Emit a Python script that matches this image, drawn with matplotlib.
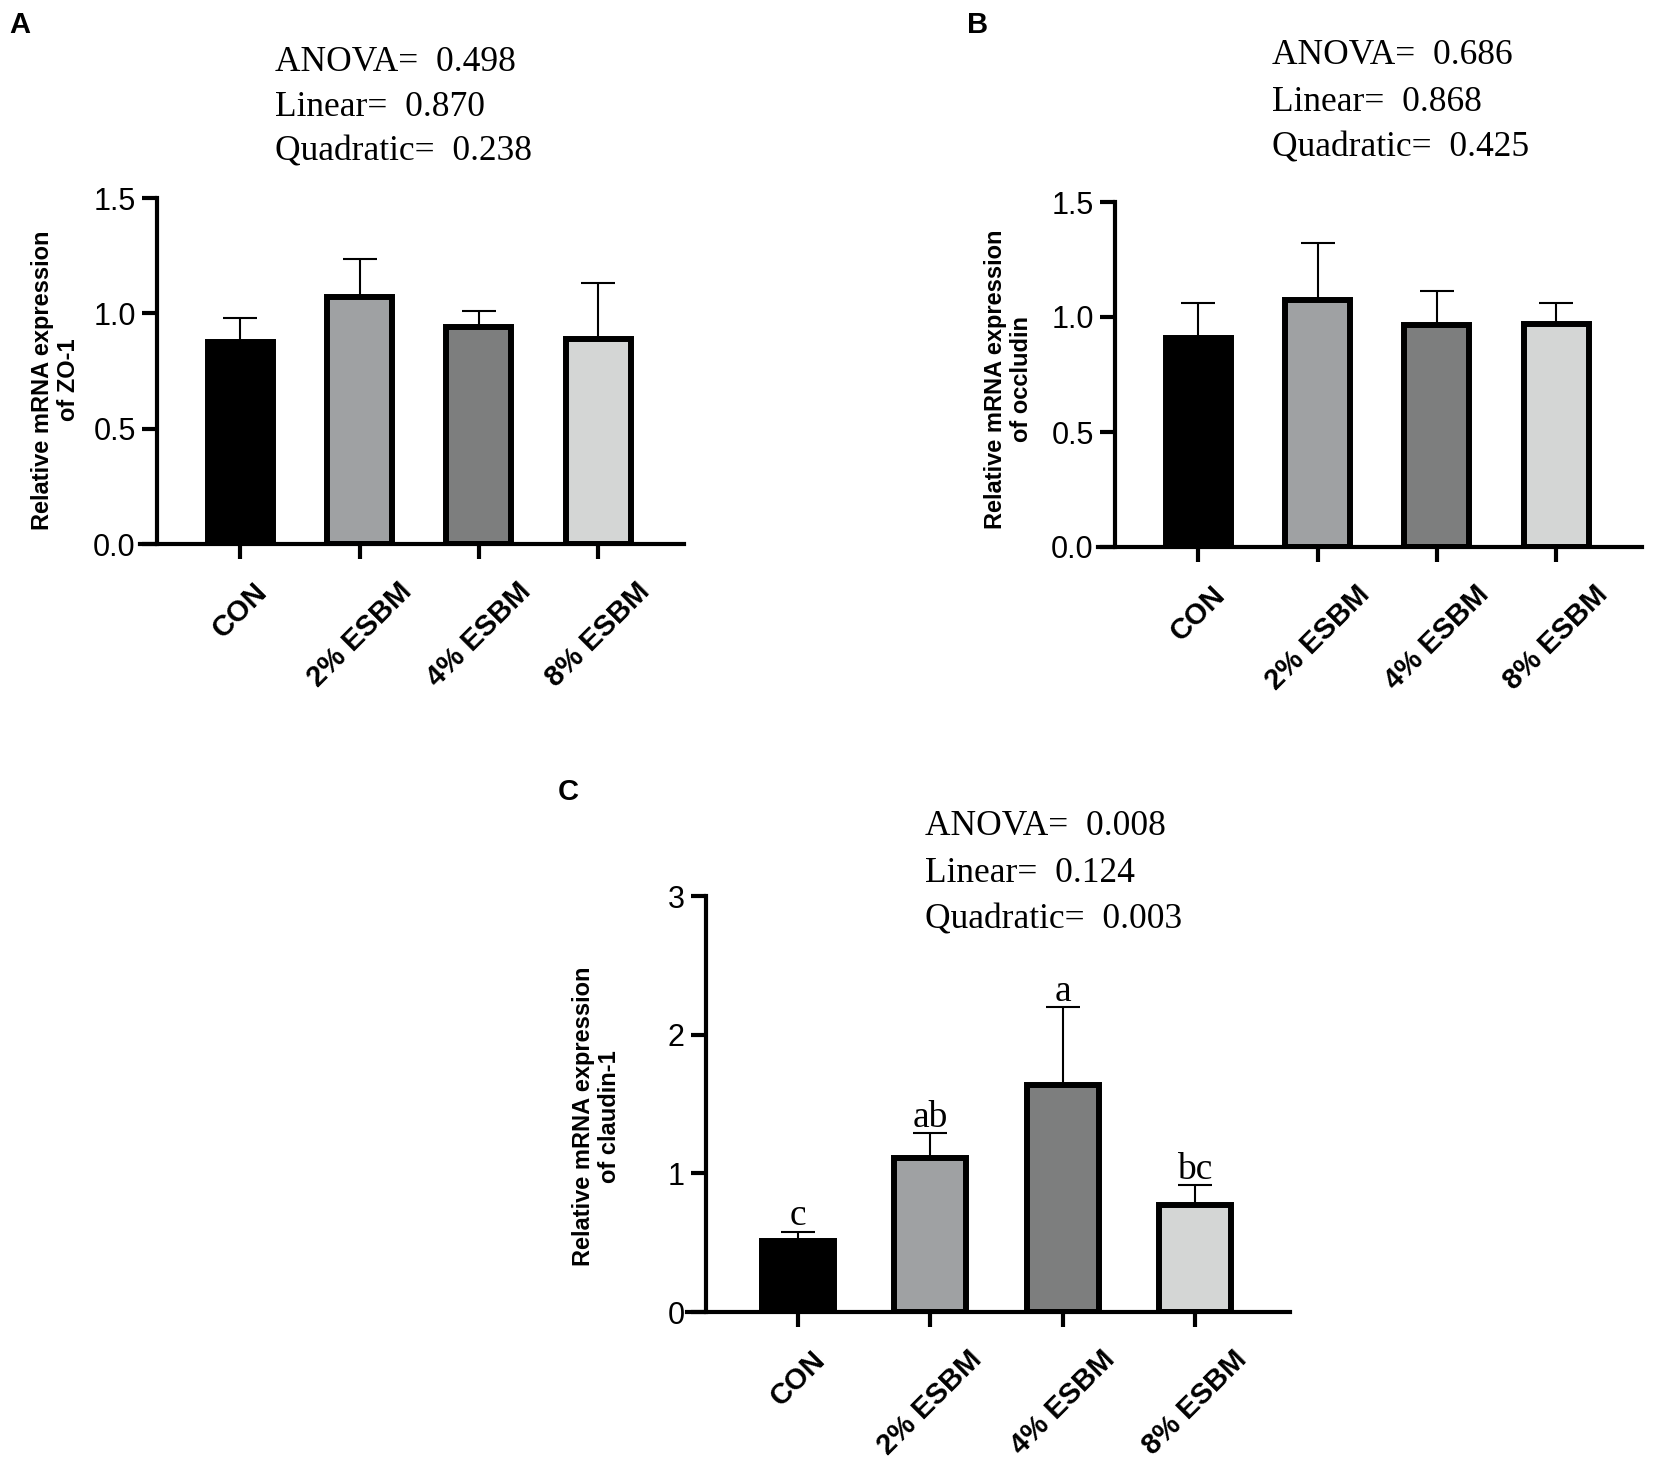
import numpy as np
import matplotlib
matplotlib.use("Agg")
import matplotlib.pyplot as plt

plt.rcParams['font.family'] = ['Liberation Sans', 'DejaVu Sans']

groups = ["CON", "2% ESBM", "4% ESBM", "8% ESBM"]
bar_colors = ["#000000", "#9fa1a3", "#7d7e7e", "#d4d6d5"]

# panel A: ZO-1
zo1_mean = [0.875, 1.07, 0.94, 0.89]
zo1_upper = [0.98, 1.235, 1.008, 1.13]
zo1_stats = ["ANOVA=  0.498", "Linear=  0.870", "Quadratic=  0.238"]

# panel B: occludin
occ_mean = [0.91, 1.075, 0.965, 0.97]
occ_upper = [1.06, 1.32, 1.115, 1.063]
occ_stats = ["ANOVA=  0.686", "Linear=  0.868", "Quadratic=  0.425"]

# panel C: claudin-1
cld_mean = [0.515, 1.11, 1.635, 0.775]
cld_upper = [0.58, 1.29, 2.2, 0.915]
cld_letters = ["c", "ab", "a", "bc"]
cld_stats = ["ANOVA=  0.008", "Linear=  0.124", "Quadratic=  0.003"]

W, H = 1653, 1457
fig = plt.figure(figsize=(W / 100, H / 100), dpi=100)


def px_axes(left, right, top, bottom):
    return fig.add_axes([left / W, 1 - bottom / H, (right - left) / W, (bottom - top) / H])


def draw_panel(ax, means, upper, ymax, yticks, ylabel, label_xy, letters=None):
    x = np.arange(len(groups))
    means = np.array(means)
    upper = np.array(upper)
    ax.errorbar(x, means, yerr=[np.zeros(len(x)), upper - means], fmt='none',
                ecolor='black', elinewidth=1.5, capsize=12, capthick=1.5, zorder=1)
    ax.bar(x, means, width=0.545, color=bar_colors, edgecolor='black',
           linewidth=4.3, zorder=2)
    ax.set_xlim(-0.84, 3.72)
    ax.set_ylim(0, ymax)
    ax.spines['top'].set_visible(False)
    ax.spines['right'].set_visible(False)
    ax.spines['left'].set_position(('data', -0.70))
    for s in ['left', 'bottom']:
        ax.spines[s].set_linewidth(3)
    ax.set_yticks(yticks)
    ax.tick_params(axis='both', length=11, width=3, color='black')
    ax.tick_params(axis='y', labelsize=22, pad=4)
    ax.tick_params(axis='x', pad=13)
    ax.set_xticks(x)
    ax.set_xticklabels(groups, rotation=45, ha='center', va='top',
                       fontsize=21, fontweight='bold')
    ax.set_ylabel(ylabel, fontsize=17, fontweight='bold', linespacing=1.2)
    ax.yaxis.set_label_coords(*label_xy)
    if letters is not None:
        for xi, top, lab in zip(x, upper, letters):
            ax.text(xi, top + 0.045, lab, ha='center', va='baseline',
                    family='Liberation Serif', fontsize=27)


def stats_text(x, ys, lines):
    for y, line in zip(ys, lines):
        fig.text(x / W, 1 - y / H, line, ha='left', va='baseline',
                 family='Liberation Serif', fontsize=25.5)


axA = px_axes(140, 684, 198, 544)
draw_panel(axA, zo1_mean, zo1_upper, 1.5, [0, 0.5, 1.0, 1.5],
           "Relative mRNA expression\nof ZO-1", (-0.11, 0.474))
axA.set_yticklabels(["0.0", "0.5", "1.0", "1.5"])

axB = px_axes(1098, 1642, 202, 547)
draw_panel(axB, occ_mean, occ_upper, 1.5, [0, 0.5, 1.0, 1.5],
           "Relative mRNA expression\nof occludin", (-0.119, 0.487))
axB.set_yticklabels(["0.0", "0.5", "1.0", "1.5"])

axC = px_axes(687, 1290, 896, 1312)
draw_panel(axC, cld_mean, cld_upper, 3, [0, 1, 2, 3],
           "Relative mRNA expression\nof claudin-1", (-0.109, 0.47), cld_letters)

stats_text(275, [71, 116, 160], zo1_stats)
stats_text(1272, [64, 111, 156], occ_stats)
stats_text(925, [835, 882, 928], cld_stats)

for lab, (px, py) in zip("ABC", [(9, 33), (967, 33), (558, 800)]):
    fig.text(px / W, 1 - py / H, lab, ha='left', va='baseline',
             fontsize=21, fontweight='bold')

fig.savefig("out.png", dpi=100, facecolor='white')
